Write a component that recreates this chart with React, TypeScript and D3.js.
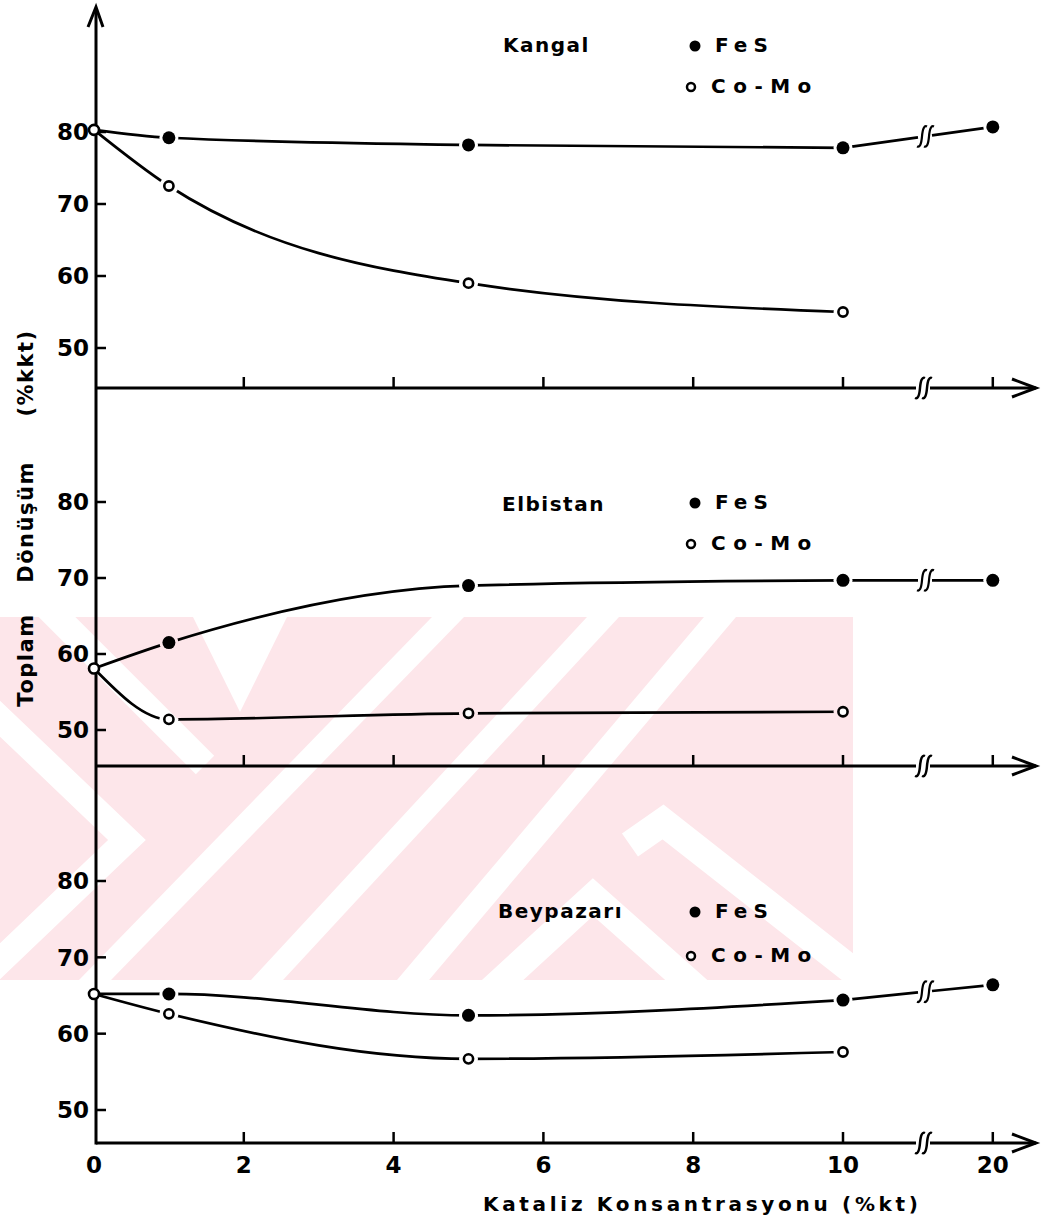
import React from "react";
import * as d3 from "d3";

// ---- data ----
const xCategories = [0, 1, 5, 10, 20];
const xTickValues = [0, 2, 4, 6, 8, 10, 20];
const yTickValues = [50, 60, 70, 80];

const kangalFeS = [80.3, 79.2, 78.2, 77.8, 80.7];
const kangalCoMo = [80.3, 72.5, 59.0, 55.0];
const elbistanFeS = [58.1, 61.5, 69.0, 69.7, 69.7];
const elbistanCoMo = [58.1, 51.4, 52.2, 52.4];
const beypazariFeS = [65.2, 65.2, 62.4, 64.4, 66.4];
const beypazariCoMo = [65.2, 62.6, 56.7, 57.6];

const panelNames = ["Kangal", "Elbistan", "Beypazarı"];
const seriesNames = ["FeS", "Co-Mo"];
const yAxisWords = ["Toplam", "Dönüşüm", "(%kkt)"];
const xAxisTitle = "Kataliz  Konsantrasyonu  (%kt)";

// ---- layout ----
const W = 1043;
const H = 1225;
const FONT = "'DejaVu Sans', Verdana, sans-serif";
const PINK = "#fde6ea";

const x = d3.scaleLinear().domain([0, 10]).range([94, 843]);
// 20 is drawn after the axis break, at the position 12 would take
const xp = (v: number) => (v <= 10 ? x(v) : x(12));
const BREAK_X = 920;
const AXIS_X = 96;
const ARROW_X = 1036;

const panelLayout = [
  { range: [348, 132], axisY: 388, nameX: 503, nameY: 52, fesY: 52, comoY: 93 },
  { range: [730, 502], axisY: 766, nameX: 502, nameY: 511, fesY: 509, comoY: 550 },
  { range: [1110, 881], axisY: 1143, nameX: 498, nameY: 918, fesY: 918, comoY: 962 },
];
const panelData = [
  [kangalFeS, kangalCoMo],
  [elbistanFeS, elbistanCoMo],
  [beypazariFeS, beypazariCoMo],
];

function squiggle(cx: number, cy: number) {
  const p = (dx: number) =>
    `M${cx + dx - 5},${cy + 10} Q${cx + dx - 1},${cy + 12} ${cx + dx},${cy} Q${cx + dx + 1},${cy - 12} ${cx + dx + 5},${cy - 10}`;
  return p(-3) + " " + p(4);
}

function Watermark() {
  const y0 = 617;
  const y1 = 980;
  const h = 16;
  // slanted white gaps: [x at bottom edge, x at top edge]
  const gaps = [
    [95, 448],
    [267, 603],
    [413, 720],
  ];
  return (
    <g>
      <clipPath id="wmclip">
        <rect x={0} y={y0} width={853} height={y1 - y0} />
      </clipPath>
      <g clipPath="url(#wmclip)">
        <rect x={0} y={y0} width={853} height={y1 - y0} fill={PINK} />
        {gaps.map(([b, t]) => (
          <polygon key={b} points={`${t - h},${y0} ${t + h},${y0} ${b + h},${y1} ${b - h},${y1}`} fill="#fff" />
        ))}
        <polygon points="193,617 287,617 240,712" fill="#fff" />
        <polyline points="40,600 205,765" fill="none" stroke="#fff" strokeWidth={26} />
        <polyline points="-30,690 127,840 -30,990" fill="none" stroke="#fff" strokeWidth={26} />
        <polyline points="630,845 663,822 890,1000" fill="none" stroke="#fff" strokeWidth={28} />
        <polyline points="470,1010 593,897 720,1010" fill="none" stroke="#fff" strokeWidth={28} />
      </g>
    </g>
  );
}

function Panel({ idx }: { idx: number }) {
  const L = panelLayout[idx];
  const [fes, como] = panelData[idx];
  const y = d3.scaleLinear().domain([50, 80]).range(L.range as [number, number]);
  const line = d3
    .line<[number, number]>()
    .x((d) => xp(d[0]))
    .y((d) => y(d[1]))
    .curve(d3.curveMonotoneX);

  const fesPts: [number, number][] = fes.map((v, i) => [xCategories[i], v]);
  const comoPts: [number, number][] = como.map((v, i) => [xCategories[i], v]);
  const fesMain = fesPts.filter((d) => d[0] <= 10);
  const last = fesPts[fesPts.length - 2];
  const far = fesPts[fesPts.length - 1];
  const x10 = xp(last[0]);
  const x20 = xp(far[0]);
  const yAt = (px: number) => y(last[1]) + ((px - x10) / (x20 - x10)) * (y(far[1]) - y(last[1]));

  const maskId = `gap${idx}`;
  const markerPts = [
    ...fesPts.slice(1).map((d) => [xp(d[0]), y(d[1])]),
    ...comoPts.slice(1).map((d) => [xp(d[0]), y(d[1])]),
  ];

  return (
    <g>
      <mask id={maskId} maskUnits="userSpaceOnUse" x={0} y={0} width={W} height={H}>
        <rect x={0} y={0} width={W} height={H} fill="#fff" />
        {markerPts.map((p, i) => (
          <circle key={i} cx={p[0]} cy={p[1]} r={9.5} fill="#000" />
        ))}
      </mask>
      {/* x axis */}
      <line x1={AXIS_X} x2={BREAK_X - 4} y1={L.axisY} y2={L.axisY} stroke="#000" strokeWidth={3} />
      <line x1={BREAK_X + 10} x2={ARROW_X} y1={L.axisY} y2={L.axisY} stroke="#000" strokeWidth={3} />
      <path d={squiggle(BREAK_X + 3, L.axisY)} fill="none" stroke="#000" strokeWidth={2.5} />
      <path
        d={`M${ARROW_X - 24},${L.axisY - 9} L${ARROW_X},${L.axisY} L${ARROW_X - 24},${L.axisY + 9}`}
        fill="none"
        stroke="#000"
        strokeWidth={3}
      />
      {xTickValues
        .filter((v) => v !== 0)
        .map((v) => (
          <line key={v} x1={xp(v)} x2={xp(v)} y1={L.axisY} y2={L.axisY - 11} stroke="#000" strokeWidth={2.5} />
        ))}
      {/* y ticks */}
      {yTickValues.map((v) => (
        <g key={v}>
          <line x1={AXIS_X} x2={AXIS_X + 10} y1={y(v)} y2={y(v)} stroke="#000" strokeWidth={2.5} />
          <text x={89} y={y(v)} dy="0.36em" textAnchor="end" fontSize={23} fontWeight="bold" fontFamily={FONT}>
            {v}
          </text>
        </g>
      ))}
      {/* series lines */}
      <g mask={`url(#${maskId})`} fill="none" stroke="#000" strokeWidth={2.7}>
        <path d={line(fesMain) || ""} />
        <path d={line(comoPts) || ""} />
        <line x1={x10} y1={y(last[1])} x2={BREAK_X - 2} y2={yAt(BREAK_X - 2)} />
        <line x1={BREAK_X + 12} y1={yAt(BREAK_X + 12)} x2={x20} y2={y(far[1])} />
      </g>
      <path d={squiggle(BREAK_X + 5, yAt(BREAK_X + 5))} fill="none" stroke="#000" strokeWidth={2.2} />
      {/* markers */}
      {fesPts.slice(1).map((d, i) => (
        <circle key={"f" + i} cx={xp(d[0])} cy={y(d[1])} r={6.5} fill="#000" />
      ))}
      {comoPts.slice(1).map((d, i) => (
        <circle key={"c" + i} cx={xp(d[0])} cy={y(d[1])} r={4.6} fill="#fff" stroke="#000" strokeWidth={2.6} />
      ))}
      <circle cx={xp(0)} cy={y(fes[0])} r={5} fill="#fff" stroke="#000" strokeWidth={2.6} />
      {/* legend */}
      <text x={L.nameX} y={L.nameY} fontSize={20} fontWeight="bold" fontFamily={FONT} letterSpacing={1.5}>
        {panelNames[idx]}
      </text>
      <circle cx={695} cy={L.fesY - 6} r={5.5} fill="#000" />
      <text x={715} y={L.fesY} fontSize={20} fontWeight="bold" fontFamily={FONT} letterSpacing={6}>
        {seriesNames[0]}
      </text>
      <circle cx={691} cy={L.comoY - 6} r={4} fill="#fff" stroke="#000" strokeWidth={2.5} />
      <text x={711} y={L.comoY} fontSize={20} fontWeight="bold" fontFamily={FONT} letterSpacing={7.5}>
        {seriesNames[1]}
      </text>
    </g>
  );
}

export default function App() {
  const bottom = panelLayout[2];
  const yCenters = [660, 522, 373];
  return (
    <svg
      width={W}
      height={H}
      viewBox={`0 0 ${W} ${H}`}
      style={{ position: "absolute", left: 0, top: 0, background: "#fff" }}
    >
      <rect x={0} y={0} width={W} height={H} fill="#fff" />
      <Watermark />
      {/* y axis */}
      <line x1={AXIS_X} x2={AXIS_X} y1={bottom.axisY + 1.5} y2={8} stroke="#000" strokeWidth={3} />
      <path d={`M${AXIS_X - 8},27 L${AXIS_X},7 L${AXIS_X + 7},27`} fill="none" stroke="#000" strokeWidth={3} />
      {panelLayout.map((_, i) => (
        <Panel key={i} idx={i} />
      ))}
      {/* x tick labels */}
      {xTickValues.map((v) => (
        <text key={v} x={xp(v)} y={1173} textAnchor="middle" fontSize={23} fontWeight="bold" fontFamily={FONT}>
          {v}
        </text>
      ))}
      <text x={483} y={1211} fontSize={20} fontWeight="bold" fontFamily={FONT} textLength={435} lengthAdjust="spacing">
        {xAxisTitle}
      </text>
      {yAxisWords.map((w, i) => (
        <text
          key={w}
          x={25}
          y={yCenters[i]}
          dy="0.36em"
          transform={`rotate(-90, 25, ${yCenters[i]})`}
          textAnchor="middle"
          fontSize={21}
          fontWeight="bold"
          fontFamily={FONT}
          letterSpacing={1.5}
        >
          {w}
        </text>
      ))}
    </svg>
  );
}
